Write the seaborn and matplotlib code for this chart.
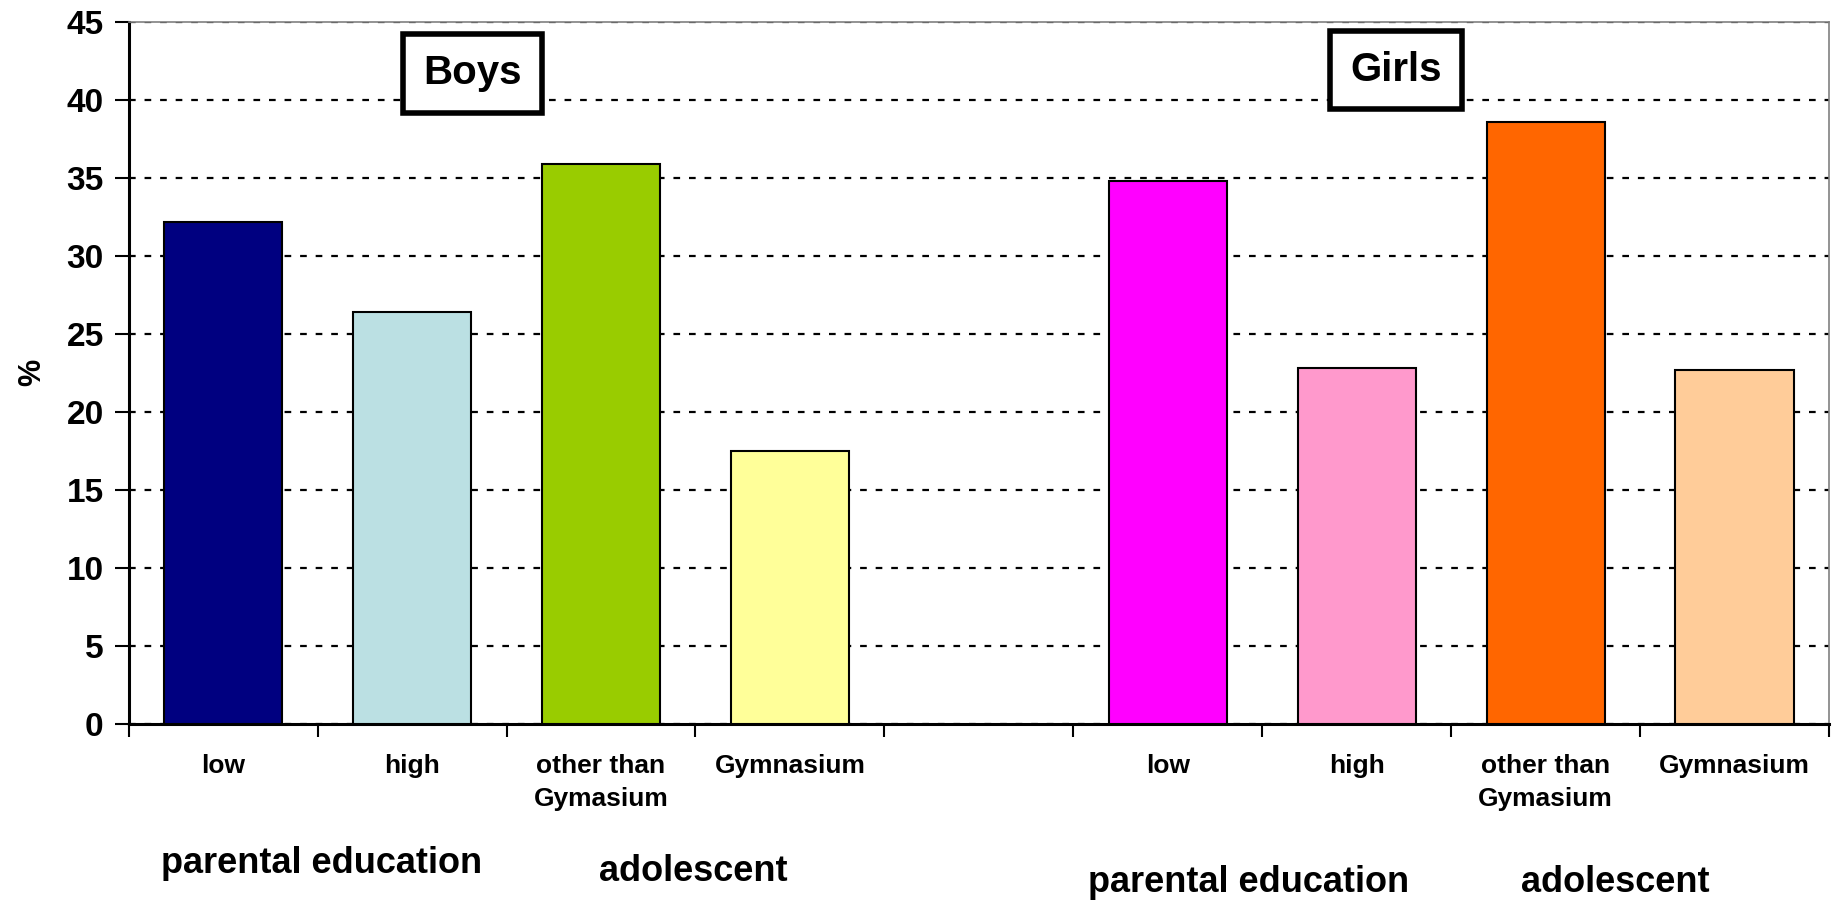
import pandas as pd
import seaborn as sns
import matplotlib.pyplot as plt
import matplotlib.transforms as mtransforms

# categories, one slot left empty between boys and girls
slots = ["b_low", "b_high", "b_other", "b_gym", "gap", "g_low", "g_high", "g_other", "g_gym"]
bar_slots = ["b_low", "b_high", "b_other", "b_gym", "g_low", "g_high", "g_other", "g_gym"]
values = [32.2, 26.4, 35.9, 17.5, 34.8, 22.8, 38.6, 22.7]
bar_colors = ["#000080", "#BBE0E3", "#99CC00", "#FFFF99",
              "#FF00FF", "#FF99CC", "#FF6600", "#FFCC99"]
tick_labels = ["low", "high", "other than\nGymasium", "Gymnasium", "",
               "low", "high", "other than\nGymasium", "Gymnasium"]
y_ticks = [0, 5, 10, 15, 20, 25, 30, 35, 40, 45]

sns.set_style("white")
plt.rcParams['font.family'] = ['Liberation Sans', 'DejaVu Sans']
plt.rcParams['font.weight'] = 'bold'
plt.rcParams['text.color'] = 'black'
plt.rcParams['axes.labelcolor'] = 'black'
plt.rcParams['xtick.color'] = 'black'
plt.rcParams['ytick.color'] = 'black'

df = pd.DataFrame({"slot": bar_slots, "value": values})

fig = plt.figure(figsize=(18.33, 9), dpi=100)
ax = fig.add_axes([0.0702, 0.196, 0.9276, 0.7796])

sns.barplot(data=df, x="slot", y="value", hue="slot", order=slots, hue_order=bar_slots,
            palette=dict(zip(bar_slots, bar_colors)), width=0.625, legend=False,
            edgecolor="black", linewidth=1.5, saturation=1, ax=ax, zorder=3)

ax.set_xlim(-0.5, len(slots) - 0.5)
ax.set_ylim(0, 45)
ax.set_yticks(y_ticks)
ax.yaxis.grid(True, color="black", linestyle=(0, (3, 4)), linewidth=1.6, zorder=0)
ax.set_axisbelow(True)

ax.set_xticks(range(len(slots)))
ax.set_xticklabels(tick_labels, fontsize=19, fontweight="bold", linespacing=1.45, va="top")
ax.set_xticks([i - 0.5 for i in range(len(slots) + 1)], minor=True)
ax.tick_params(axis="x", which="major", bottom=True, length=0, pad=22)
ax.tick_params(axis="x", which="minor", bottom=True, length=9, width=1.5,
               direction="out", color="black")
ax.tick_params(axis="y", left=True, length=10, width=1.5, direction="out", color="black",
               labelsize=24, pad=8)
for t in ax.get_yticklabels():
    t.set_fontweight("bold")

ax.set_xlabel("")
ax.set_ylabel("%", fontsize=22, fontweight="bold", labelpad=14)

for side in ["left", "bottom"]:
    ax.spines[side].set_color("black")
    ax.spines[side].set_linewidth(2.2)
for side in ["top", "right"]:
    ax.spines[side].set_color("#808080")
    ax.spines[side].set_linewidth(1.2)

# group titles in boxes
box = dict(boxstyle="square,pad=0.5", facecolor="white", edgecolor="black", linewidth=4)
ax.text(1.32, 41.7, "Boys", fontsize=29, fontweight="bold", ha="center", va="center",
        bbox=box, zorder=5)
ax.text(6.21, 41.9, "Girls", fontsize=29, fontweight="bold", ha="center", va="center",
        bbox=box, zorder=5)

# group captions below the axis
trans = mtransforms.blended_transform_factory(ax.transData, fig.transFigure)
captions = [(0.52, 0.041, "parental education"), (2.49, 0.032, "adolescent"),
            (5.43, 0.019, "parental education"), (7.37, 0.019, "adolescent")]
for x, y, s in captions:
    ax.text(x, y, s, transform=trans, fontsize=26, fontweight="bold",
            ha="center", va="center")

fig.savefig("out.png", dpi=100)
